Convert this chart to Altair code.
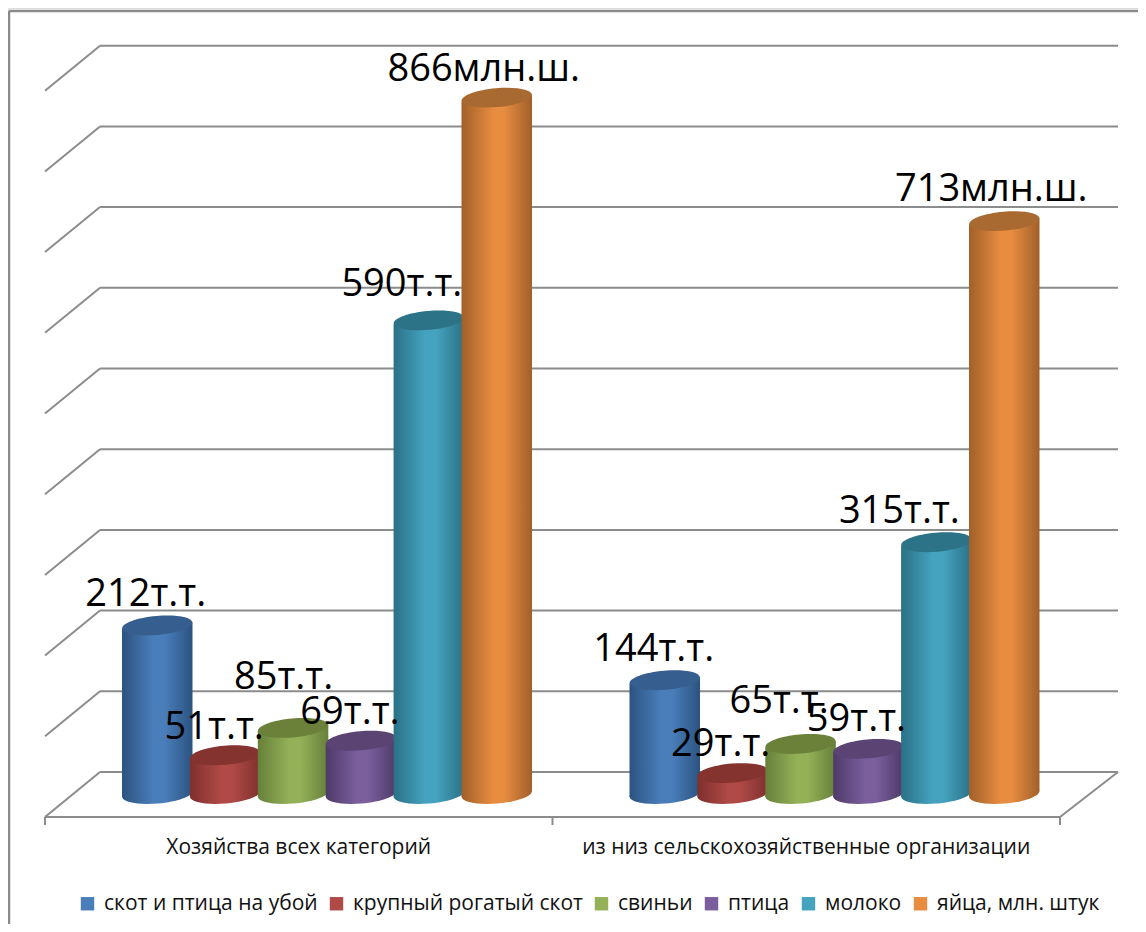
import altair as alt
import pandas as pd

categories = ["Хозяйства всех категорий", "из низ сельскохозяйственные организации"]
series = ["скот и птица на убой", "крупный рогатый скот", "свиньи", "птица", "молоко", "яйца, млн. штук"]
group_all = [212, 51, 85, 69, 590, 866]
group_org = [144, 29, 65, 59, 315, 713]
units = ["т.т.", "т.т.", "т.т.", "т.т.", "т.т.", "млн.ш."]
grid_values = [0, 100, 200, 300, 400, 500, 600, 700, 800, 900]

mid_colors = ["#4a7ebb", "#b04a47", "#94b158", "#7b5f9d", "#45a3bf", "#e88c40"]
dark_colors = ["#2c5380", "#7f302d", "#66803a", "#4e3a68", "#2a7186", "#a1602a"]
top_colors = ["#365f8f", "#85332f", "#6b8039", "#5b4374", "#2d7387", "#a96a32"]

FONT = "Open Sans"
LINE = "#8c8c8c"

# Layout of the pseudo-3D frame, in pixels of the picture
PX_PER_CAT = 507.5
PX_PER_VAL = 0.807
X_ZERO = 45.0
Y_ZERO = 796.5
RIGHT = 1138
BOTTOM = 924
def cx(px): return (px - X_ZERO) / PX_PER_CAT
def dv(px): return px / PX_PER_VAL
x_scale = alt.Scale(domain=[cx(8), cx(RIGHT)], nice=False, zero=False)
y_scale = alt.Scale(domain=[(Y_ZERO - BOTTOM) / PX_PER_VAL, (Y_ZERO - 8) / PX_PER_VAL], nice=False, zero=False)
X = lambda f="x": alt.X(f"{f}:Q", scale=x_scale, axis=None)
Y = lambda f="y": alt.Y(f"{f}:Q", scale=y_scale, axis=None)

BACK = dv(24.5)
FRONT = -dv(20.5)
WALL_L = cx(100)
WALL_R = cx(1118)

segments = []
for v in grid_values:
    segments.append(dict(x=WALL_L, x2=WALL_R, y=v + BACK, y2=v + BACK))
    segments.append(dict(x=cx(45), x2=WALL_L, y=v + FRONT, y2=v + BACK))
segments.append(dict(x=cx(45), x2=cx(1060), y=FRONT, y2=FRONT))
segments.append(dict(x=cx(1060), x2=WALL_R, y=FRONT, y2=BACK))
for t in [0, 1, 2]:
    segments.append(dict(x=t, x2=t, y=FRONT, y2=FRONT - dv(8)))
frame = [
    dict(x=cx(9), x2=cx(9), y=(Y_ZERO - 11) / PX_PER_VAL, y2=(Y_ZERO - BOTTOM) / PX_PER_VAL),
    dict(x=cx(9), x2=cx(RIGHT), y=(Y_ZERO - 11) / PX_PER_VAL, y2=(Y_ZERO - 11) / PX_PER_VAL),
]
enc = dict(x=X(), x2="x2:Q", y=Y(), y2="y2:Q")
grid = alt.Chart(pd.DataFrame(segments)).mark_rule(color=LINE, strokeWidth=2).encode(**enc)
frame_layer = alt.Chart(pd.DataFrame(frame)).mark_rule(color="#8a8a8a", strokeWidth=2.5).encode(**enc)

CYL_W = 70.5
STEP = 67.9 / PX_PER_CAT
HALF = CYL_W / 2 / PX_PER_CAT
TILT = dv(3.1)
BASE = dv(2.5)
SIZE = CYL_W ** 2
ELLIPSE = "M-0.9962,0.0872 A1,0.27,-5,1,1,0.9962,-0.0872 A1,0.27,-5,1,1,-0.9962,0.0872 Z"
CENTER = cx(327)

layers = [frame_layer, grid]
for s, name in enumerate(series):
    grad = alt.Gradient(gradient="linear", x1=0, x2=1, y1=0, y2=0, stops=[
        alt.GradientStop(color=dark_colors[s], offset=0),
        alt.GradientStop(color=mid_colors[s], offset=0.45),
        alt.GradientStop(color=mid_colors[s], offset=0.6),
        alt.GradientStop(color=dark_colors[s], offset=1),
    ])
    body_rows, top_rows = [], []
    for g, vals in enumerate([group_all, group_org]):
        c = g + CENTER + (s - 2.5) * STEP
        v = vals[s]
        body_rows.append(dict(g=g, x=c - HALF, y=v - TILT, y2=BASE - TILT))
        body_rows.append(dict(g=g, x=c + HALF, y=v + TILT, y2=BASE + TILT))
        top_rows.append(dict(x=c, y=v, b=BASE))
    body = pd.DataFrame(body_rows)
    tops = pd.DataFrame(top_rows)
    layers.append(alt.Chart(tops).mark_point(shape=ELLIPSE, size=SIZE, filled=True, color=grad, opacity=1, strokeWidth=0)
                  .encode(x=X(), y=Y("b")))
    layers.append(alt.Chart(body).mark_area(color=grad, opacity=1, interpolate="linear", orient="vertical")
                  .encode(x=X(), y=Y(), y2="y2:Q", detail="g:N"))
    layers.append(alt.Chart(tops).mark_point(shape=ELLIPSE, size=SIZE, filled=True, color=top_colors[s], opacity=1, strokeWidth=0)
                  .encode(x=X(), y=Y()))

# Hand-placed value labels, as in the picture: shift from the cylinder top in pixels
label_shift_x = [[-11.5, -11, -9.5, -11, -27, -13], [-11, -12, -21.5, -12, -37, -13]]
label_shift_y = [[30, 27, 50, 28, 35, 28], [30, 28, 42, 29, 30, 31]]
rows = []
for g, vals in enumerate([group_all, group_org]):
    for s, v in enumerate(vals):
        rows.append(dict(
            x=g + CENTER + (s - 2.5) * STEP + label_shift_x[g][s] / PX_PER_CAT,
            y=v + dv(label_shift_y[g][s]),
            t=f"{v}{units[s]}"))
labels = alt.Chart(pd.DataFrame(rows)).mark_text(font=FONT, fontSize=38, color="#000000", align="center", baseline="middle").encode(
    x=X(), y=Y(), text="t:N")

cat_df = pd.DataFrame({"x": [0.5, 1.5], "y": [(Y_ZERO - 848) / PX_PER_VAL] * 2, "t": categories})
cats = alt.Chart(cat_df).mark_text(font=FONT, fontSize=21, color="#111111", align="center", baseline="middle").encode(
    x=X(), y=Y(), text="t:N")

legend_df = pd.DataFrame({"name": series, "x": [0.5] * 6, "y": [0] * 6})
legend_layer = alt.Chart(legend_df).mark_square(size=0, opacity=1).encode(
    x=X(), y=Y(),
    color=alt.Color("name:N", scale=alt.Scale(domain=series, range=mid_colors), legend=alt.Legend(
        title=None, orient="none", legendX=69, legendY=885, direction="horizontal", columns=6,
        symbolType="square", symbolSize=180, symbolStrokeWidth=0, symbolOpacity=1,
        labelFont=FONT, labelFontSize=21, labelColor="#111111", columnPadding=8, labelOffset=6, labelLimit=400)),
)

chart = alt.layer(*layers, labels, cats, legend_layer).properties(
    width=RIGHT - 8, height=BOTTOM - 8, padding=0, autosize=alt.AutoSizeParams(type="none"),
).configure_view(strokeWidth=0).configure(background="#ffffff")

chart.save("out.html", embed_options={"renderer": "svg", "actions": False})
